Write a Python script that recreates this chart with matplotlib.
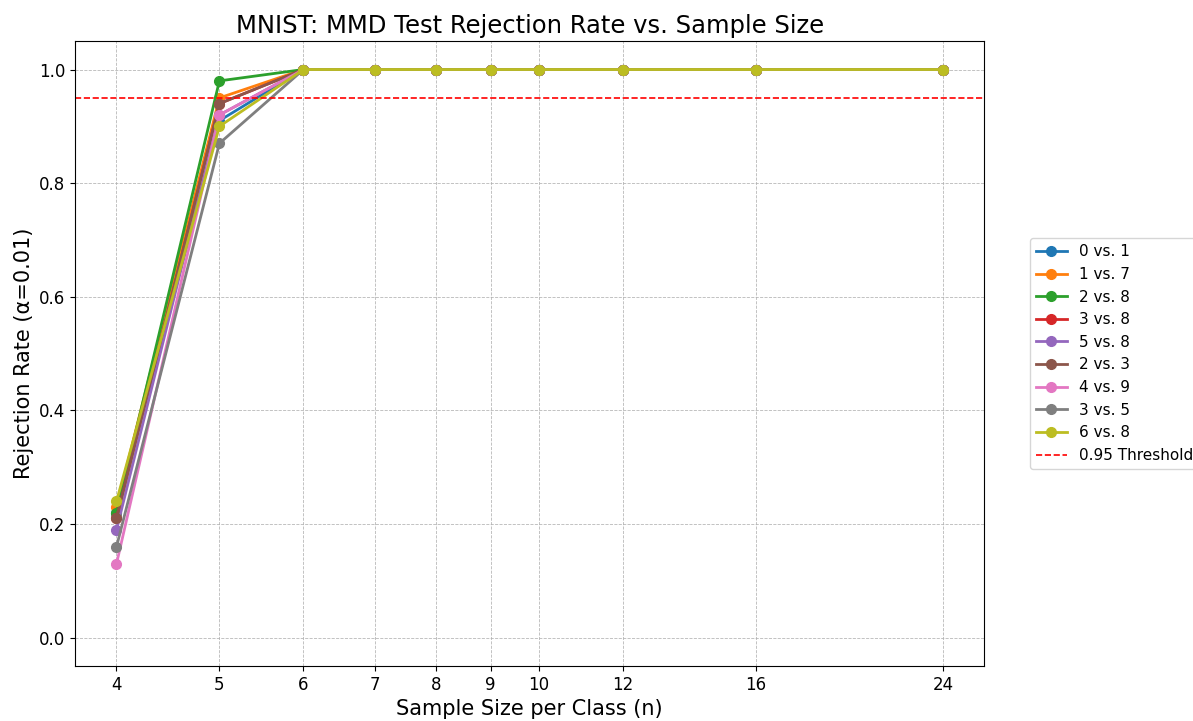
import matplotlib
matplotlib.use('Agg')
import matplotlib.pyplot as plt
from matplotlib.ticker import NullLocator, FixedLocator, FixedFormatter

# Sample sizes per class
sample_sizes = [4, 5, 6, 7, 8, 9, 10, 12, 16, 24]

# Rejection rates per digit pair
pairs = ['0 vs. 1', '1 vs. 7', '2 vs. 8', '3 vs. 8', '5 vs. 8',
         '2 vs. 3', '4 vs. 9', '3 vs. 5', '6 vs. 8']
rate_0_1 = [0.22, 0.91, 1.0, 1.0, 1.0, 1.0, 1.0, 1.0, 1.0, 1.0]
rate_1_7 = [0.23, 0.95, 1.0, 1.0, 1.0, 1.0, 1.0, 1.0, 1.0, 1.0]
rate_2_8 = [0.22, 0.98, 1.0, 1.0, 1.0, 1.0, 1.0, 1.0, 1.0, 1.0]
rate_3_8 = [0.21, 0.94, 1.0, 1.0, 1.0, 1.0, 1.0, 1.0, 1.0, 1.0]
rate_5_8 = [0.19, 0.92, 1.0, 1.0, 1.0, 1.0, 1.0, 1.0, 1.0, 1.0]
rate_2_3 = [0.21, 0.94, 1.0, 1.0, 1.0, 1.0, 1.0, 1.0, 1.0, 1.0]
rate_4_9 = [0.13, 0.92, 1.0, 1.0, 1.0, 1.0, 1.0, 1.0, 1.0, 1.0]
rate_3_5 = [0.16, 0.87, 1.0, 1.0, 1.0, 1.0, 1.0, 1.0, 1.0, 1.0]
rate_6_8 = [0.24, 0.90, 1.0, 1.0, 1.0, 1.0, 1.0, 1.0, 1.0, 1.0]
rates = [rate_0_1, rate_1_7, rate_2_8, rate_3_8, rate_5_8,
         rate_2_3, rate_4_9, rate_3_5, rate_6_8]

threshold = 0.95

fig, ax = plt.subplots(figsize=(11.93, 7.21), dpi=100)
fig.subplots_adjust(left=0.063, right=0.825, bottom=0.076, top=0.943)

for label, r in zip(pairs, rates):
    ax.plot(sample_sizes, r, marker='o', linewidth=2, markersize=7, label=label)

ax.axhline(threshold, color='red', linestyle='--', linewidth=1.2, label='0.95 Threshold')

ax.set_xscale('log')
ax.xaxis.set_major_locator(FixedLocator(sample_sizes))
ax.xaxis.set_major_formatter(FixedFormatter([str(s) for s in sample_sizes]))
ax.xaxis.set_minor_locator(NullLocator())
ax.set_ylim(-0.05, 1.05)

ax.set_title('MNIST: MMD Test Rejection Rate vs. Sample Size', fontsize=17.5)
ax.set_xlabel('Sample Size per Class (n)', fontsize=15)
ax.set_ylabel('Rejection Rate (α=0.01)', fontsize=15)
ax.tick_params(labelsize=12)
ax.grid(True, linestyle='--', linewidth=0.6, alpha=0.9)

ax.legend(loc='center left', bbox_to_anchor=(1.042, 0.5), fontsize=11)

plt.savefig('out.png', dpi=100)
